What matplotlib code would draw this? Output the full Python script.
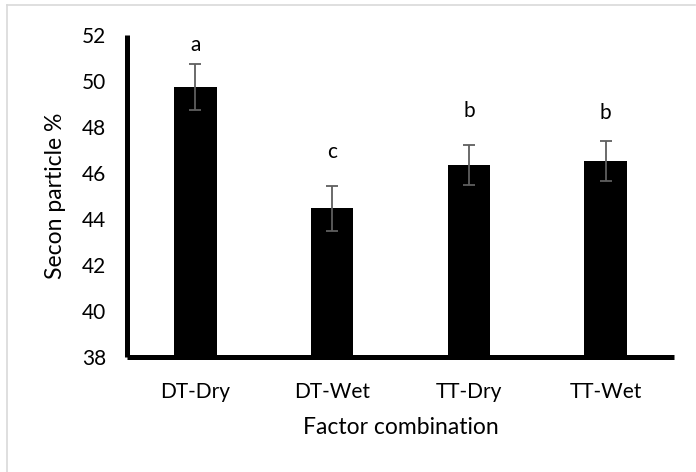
import matplotlib
matplotlib.use("Agg")
import matplotlib.pyplot as plt
from matplotlib.lines import Line2D

categories = ["DT-Dry", "DT-Wet", "TT-Dry", "TT-Wet"]
values = [49.72, 44.47, 46.34, 46.53]
errors = [1.0, 0.98, 0.86, 0.87]
letters = ["a", "c", "b", "b"]
letter_y = [51.56, 46.93, 48.68, 48.6]
yticks = [38, 40, 42, 44, 46, 48, 50, 52]

plt.rcParams['font.family'] = ['Lato', 'DejaVu Sans']

W, H = 696, 472
fig = plt.figure(figsize=(W / 100, H / 100), dpi=100)
ax = fig.add_axes([127 / W, 1 - 357 / H, (674 - 127) / W, (357 - 35) / H])

x = list(range(len(categories)))
ax.bar(x, values, width=0.31, color="black", zorder=2)
ax.errorbar(x, values, yerr=errors, fmt="none", ecolor="#5f5f5f",
            elinewidth=1.3, capsize=4.3, capthick=1.3, zorder=3)
for xi, lt, ly in zip(x, letters, letter_y):
    ax.text(xi, ly, lt, ha="center", va="center", fontsize=15, color="black")

ax.set_xlim(-0.5, len(categories) - 0.5)
ax.set_ylim(38, 52)
ax.set_yticks(yticks)
ax.set_xticks(x)
ax.set_xticklabels(categories)
ax.tick_params(axis="both", length=0, labelsize=15, colors="black")
ax.tick_params(axis="x", pad=18)
ax.tick_params(axis="y", pad=15)

for s in ["top", "right"]:
    ax.spines[s].set_visible(False)
for s in ["left", "bottom"]:
    ax.spines[s].set_linewidth(3.6)
    ax.spines[s].set_color("black")
    ax.spines[s].set_capstyle("butt")

ax.set_ylabel("Secon particle %", fontsize=16.5)
ax.set_xlabel("Factor combination", fontsize=16.5)
ax.yaxis.set_label_coords((55 - 127) / (674 - 127), 0.5)
ax.xaxis.set_label_coords(0.5, -(428 - 357) / (357 - 35))
ax.xaxis.label.set_va("center")
ax.yaxis.label.set_va("center")

# light grey outer frame (left and top)
fig.add_artist(Line2D([6.5 / W, 6.5 / W], [0, 1 - 5 / H], transform=fig.transFigure,
                      color="#d9d9d9", lw=1.2))
fig.add_artist(Line2D([6.5 / W, 695 / W], [1 - 5 / H, 1 - 5 / H], transform=fig.transFigure,
                      color="#d9d9d9", lw=1.2))

fig.savefig("out.png", dpi=100)
